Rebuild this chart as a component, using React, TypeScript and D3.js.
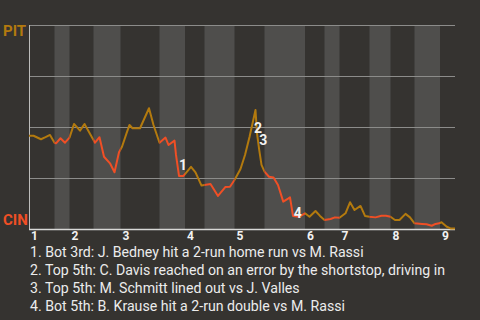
import React from "react";
import * as d3 from "d3";

// Pitch index of the start of each half inning (top 1st, bot 1st, top 2nd, ...)
const halfInningStarts = [0, 17, 27, 43, 61, 87, 104, 117, 137, 157, 184, 197, 207, 227, 241, 257, 274];
const lastPitch = 284;
const inningLabels = ["1", "2", "3", "4", "5", "6", "7", "8", "9"];
const gridValues = [100, 75, 50, 25];

// PIT win probability (%) by pitch index
const pitchIndex = [
  0, 3, 8, 11, 14, 17, 18, 21, 24, 27, 30, 34, 37, 44, 47, 50, 54, 57, 60, 62, 65, 67, 69, 74, 77, 80,
  83, 87, 91, 93, 97, 98, 100, 103, 108, 111, 115, 121, 126, 131, 134, 137, 141, 144, 147, 151, 152,
  153.5, 155, 157, 160, 163, 166, 169.5, 173, 174, 176, 180, 184, 187, 191, 194, 197, 201, 204, 207,
  211, 214, 217, 221, 224, 227, 231, 235, 238, 241, 244, 247, 251, 254, 257, 262, 265, 268.5, 271, 273.5,
  275, 278.5, 281, 284,
];
const pitWinProb = [
  45.7, 45.7, 44.0, 45.0, 46.1, 42.3, 42.0, 44.5, 42.3, 44.8, 51.5, 48.2, 51.5, 42.3, 45.0, 35.4, 32.2,
  27.8, 37.6, 40.3, 46.9, 51.0, 49.4, 49.4, 54.3, 59.2, 51.0, 42.3, 44.8, 41.2, 43.3, 36.3, 26.0, 26.0,
  30.5, 27.8, 21.3, 22.1, 16.2, 20.6, 20.7, 24.0, 29.4, 36.3, 45.1, 58.3, 46.9, 38.7, 31.4, 28.1, 25.6,
  25.3, 21.6, 13.4, 15.0, 15.5, 6.4, 6.0, 7.7, 6.0, 8.8, 6.4, 4.4, 4.9, 5.7, 5.5, 7.7, 13.1, 9.3, 11.3,
  6.4, 6.0, 5.7, 6.5, 6.5, 6.0, 4.4, 4.4, 7.4, 5.7, 2.8, 2.5, 2.3, 1.6, 2.5, 2.8, 3.3, 1.1, 0.3, 0.3,
];

// Key events
const eventNumbers = ["1", "2", "3", "4"];
const eventPitch = [100, 150, 153.5, 176.5];
const eventProb = [29, 47, 41, 5.4];
const eventTexts = [
  "1. Bot 3rd: J. Bedney hit a 2-run home run vs M. Rassi",
  "2. Top 5th: C. Davis reached on an error by the shortstop, driving in",
  "3. Top 5th: M. Schmitt lined out vs J. Valles",
  "4. Bot 5th: B. Krause hit a 2-run double vs M. Rassi",
];

const awayTeam = "PIT";
const homeTeam = "CIN";

const W = 480;
const H = 320;
const BG = "#353330";
const BAND = "#4f4e4c";
const GOLD = "#b37a0e";
const RED = "#f04f25";
const FONT = "Roboto, 'Noto Sans', sans-serif";

export default function App() {
  const x = d3.scaleLinear().domain([0, lastPitch]).range([29, 455]);
  const y = d3.scaleLinear().domain([0, 100]).range([229, 25]);

  const points: [number, number][] = pitchIndex.map((p, i) => [p, pitWinProb[i]]);
  const line = d3
    .line<[number, number]>()
    .x((d) => x(d[0]))
    .y((d) => y(d[1]));
  const pathD = line(points) || "";

  const halves = halfInningStarts.map((s, i) => ({
    start: s,
    end: i + 1 < halfInningStarts.length ? halfInningStarts[i + 1] : lastPitch,
    bottom: i % 2 === 1,
  }));

  return (
    <svg
      width={W}
      height={H}
      style={{ position: "fixed", left: 0, top: 0, display: "block", background: BG }}
      fontFamily={FONT}
    >
      <defs>
        <clipPath id="topClip">
          {halves
            .filter((h) => !h.bottom)
            .map((h, i) => (
              <rect key={i} x={x(h.start)} y={0} width={x(h.end) - x(h.start)} height={H} />
            ))}
        </clipPath>
        <clipPath id="botClip">
          {halves
            .filter((h) => h.bottom)
            .map((h, i) => (
              <rect key={i} x={x(h.start)} y={0} width={x(h.end) - x(h.start)} height={H} />
            ))}
        </clipPath>
      </defs>
      <rect x={0} y={0} width={W} height={H} fill={BG} />
      {halves
        .filter((h) => h.bottom)
        .map((h, i) => (
          <rect key={i} x={x(h.start)} y={y(100)} width={x(h.end) - x(h.start)} height={y(0) - y(100)} fill={BAND} />
        ))}
      {gridValues.map((g) => (
        <line key={g} x1={x(0)} x2={x(lastPitch)} y1={Math.round(y(g)) + 0.5} y2={Math.round(y(g)) + 0.5} stroke="#8c8c8a" strokeWidth={1} />
      ))}
      <line x1={x(0) + 0.5} x2={x(0) + 0.5} y1={y(100)} y2={y(0)} stroke="#bdbdbb" strokeWidth={1} />
      <line x1={x(0)} x2={x(lastPitch)} y1={y(0) + 0.5} y2={y(0) + 0.5} stroke="#d8d8d6" strokeWidth={1.5} />

      <path d={pathD} fill="none" stroke={GOLD} strokeWidth={2} clipPath="url(#topClip)" strokeLinejoin="round" />
      <path d={pathD} fill="none" stroke={RED} strokeWidth={2} clipPath="url(#botClip)" strokeLinejoin="round" />

      {eventNumbers.map((n, i) => (
        <text key={n} x={x(eventPitch[i])} y={y(eventProb[i])} fill="#f2f2f2" fontWeight="bold" fontSize={14}>
          {n}
        </text>
      ))}

      <text x={3} y={36} fill={GOLD} fontWeight="bold" fontSize={15}>
        {awayTeam}
      </text>
      <text x={3} y={225} fill={RED} fontWeight="bold" fontSize={15}>
        {homeTeam}
      </text>

      {inningLabels.map((lab, i) => (
        <text key={lab} x={x(halfInningStarts[i * 2]) + 2} y={240} fill="#f2f2f2" fontWeight="bold" fontSize={12}>
          {lab}
        </text>
      ))}

      {eventTexts.map((t, i) => (
        <text key={i} x={30} y={257 + i * 18} fill="#ececec" fontSize={14.15}>
          {t}
        </text>
      ))}
    </svg>
  );
}
